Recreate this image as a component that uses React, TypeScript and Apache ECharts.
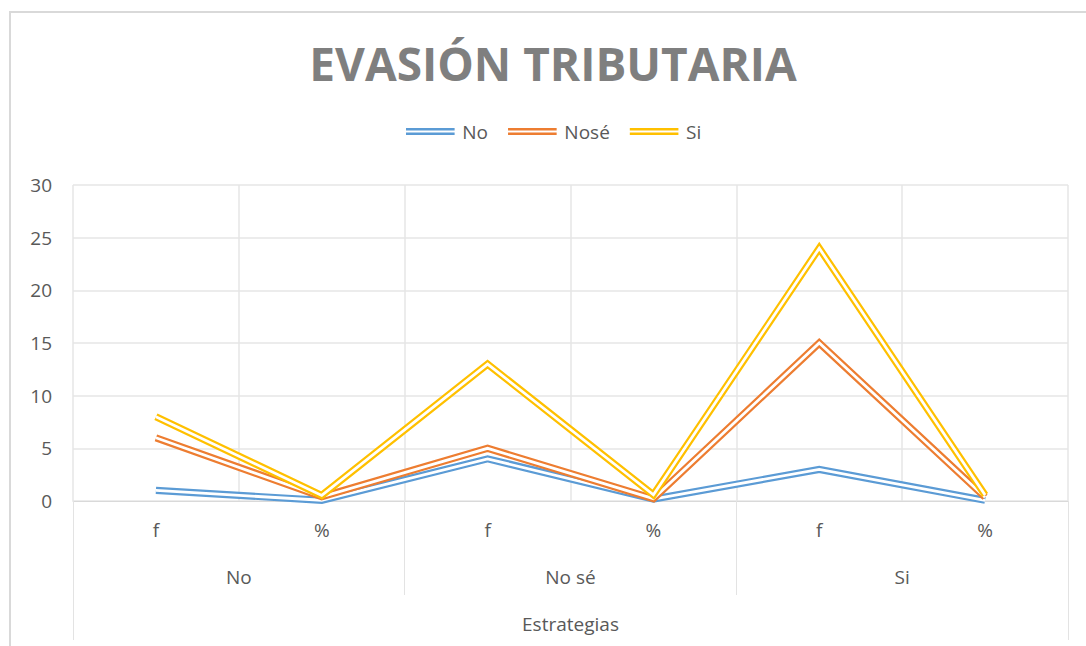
import React, { useEffect, useRef } from "react";
import * as echarts from "echarts";

const subCategories = ["f", "%", "f", "%", "f", "%"];
const groupCategories = ["No", "No sé", "Si"];
const seriesNames = ["No", "Nosé", "Si"];
const seriesColors = ["#5b9bd5", "#ed7d31", "#ffc000"];
const valuesNo = [1, 0.07, 4, 0.18, 3, 0.07];
const valuesNose = [6, 0.4, 5, 0.23, 15, 0.36];
const valuesSi = [8, 0.53, 13, 0.59, 24, 0.57];
const yTicks = { min: 0, max: 30, interval: 5 };
const titleText = "EVASIÓN TRIBUTARIA";
const axisTitle = "Estrategias";

const FONT = "'Open Sans', sans-serif";

export default function App() {
  const ref = useRef<HTMLDivElement>(null);
  useEffect(() => {
    if (!ref.current) return;
    const chart = echarts.init(ref.current, undefined, { renderer: "svg" });
    const allValues = [valuesNo, valuesNose, valuesSi];
    const series: any[] = [];
    allValues.forEach((vals, i) => {
      series.push({
        name: seriesNames[i],
        type: "line",
        data: vals,
        xAxisIndex: 0,
        yAxisIndex: 0,
        symbol: "none",
        color: seriesColors[i],
        lineStyle: { color: seriesColors[i], width: 7.2, join: "miter", miterLimit: 20, cap: "butt" },
        silent: true,
      });
      series.push({
        name: seriesNames[i] + " gap",
        type: "line",
        data: vals,
        xAxisIndex: 0,
        yAxisIndex: 0,
        symbol: "none",
        color: "#ffffff",
        lineStyle: { color: "#ffffff", width: 2.8, join: "miter", miterLimit: 20, cap: "butt" },
        silent: true,
      });
    });
    const option: any = {
      animation: false,
      backgroundColor: "#ffffff",
      graphic: [
        {
          type: "rect",
          shape: { x: 10, y: 12, width: 1200, height: 800 },
          style: { fill: "none", stroke: "#d9d9d9", lineWidth: 2 },
          silent: true,
        },
        {
          type: "text",
          x: 553,
          y: 63,
          style: {
            text: titleText,
            fill: "#7f7f7f",
            font: `bold 46px ${FONT}`,
            textAlign: "center",
            textVerticalAlign: "middle",
          },
          silent: true,
        },
      ],
      legend: {
        data: seriesNames,
        left: 401,
        top: 117,
        itemWidth: 50,
        itemHeight: 7,
        itemGap: 20,
        icon: "path://M0,0H50V2.6H0ZM0,4.6H50V7.2H0Z",
        textStyle: { color: "#595959", fontSize: 19, fontFamily: FONT, padding: [0, 0, 0, 2] },
        selectedMode: false,
      },
      grid: { left: 73, right: 18, top: 185, bottom: 145 },
      xAxis: [
        {
          type: "category",
          data: subCategories,
          position: "bottom",
          boundaryGap: true,
          axisLine: { show: true, lineStyle: { color: "#d9d9d9", width: 1 } },
          axisTick: { show: false },
          axisLabel: { color: "#595959", fontSize: 19, fontFamily: FONT, margin: 19, interval: 0 },
          splitLine: { show: true, interval: 0, lineStyle: { color: "#e6e6e6", width: 1.5 } },
        },
        {
          type: "category",
          data: groupCategories,
          position: "bottom",
          boundaryGap: true,
          axisLine: { show: false },
          axisTick: { show: true, interval: 0, length: 94, lineStyle: { color: "#e3e3e3", width: 1 } },
          axisLabel: { color: "#595959", fontSize: 19, fontFamily: FONT, margin: 66, interval: 0 },
          splitLine: { show: false },
        },
        {
          type: "category",
          data: [""],
          position: "bottom",
          boundaryGap: true,
          axisLine: { show: false },
          axisTick: { show: true, interval: 0, length: 139, lineStyle: { color: "#e3e3e3", width: 1 } },
          axisLabel: { show: false },
          splitLine: { show: false },
          name: axisTitle,
          nameLocation: "middle",
          nameGap: 113,
          nameTextStyle: { color: "#595959", fontSize: 19, fontFamily: FONT },
        },
      ],
      yAxis: {
        type: "value",
        min: yTicks.min,
        max: yTicks.max,
        interval: yTicks.interval,
        axisLine: { show: false },
        axisTick: { show: false },
        axisLabel: { color: "#595959", fontSize: 19, fontFamily: FONT, margin: 21 },
        splitLine: { show: true, lineStyle: { color: "#e6e6e6", width: 1.5 } },
      },
      series,
    };
    chart.setOption(option);
    return () => chart.dispose();
  }, []);
  return (
    <div
      ref={ref}
      style={{ position: "absolute", left: 0, top: 0, width: 1086, height: 646, background: "#fff" }}
    />
  );
}
